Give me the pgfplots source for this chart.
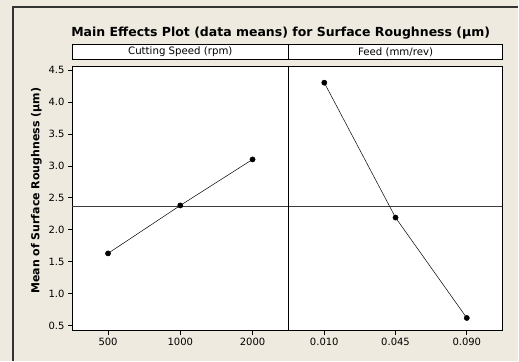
\documentclass[border=0pt]{standalone}
\usepackage{fontspec}
\setmainfont{DejaVu Sans}
\usepackage{pgfplots}
\pgfplotsset{compat=1.18}
\definecolor{bg}{RGB}{238,234,224}
\definecolor{meanc}{RGB}{60,60,60}
\pgfplotsset{
  mep/.style={
    scale only axis, anchor=south west, height=265pt,
    xmin=0.5, xmax=3.5, ymin=0.422, ymax=4.5625,
    xtick={1,2,3},
    tick align=outside, tick pos=left, major tick length=4pt,
    axis line style={line width=0.8pt},
    every tick/.style={black, line width=0.6pt},
    /pgf/number format/assume math mode=true,
    tick label style={font=\fontsize{10}{12}\selectfont},
    axis background/.style={fill=white},
    title style={at={(0.5,1)}, anchor=south, draw=black, fill=white, line width=0.8pt,
      minimum height=15pt, inner sep=0pt, font=\fontsize{10.2}{12}\selectfont},
  }
}
\begin{document}
\begin{tikzpicture}
\fill[bg] (0,0) rectangle (519pt,361pt);
\draw[line width=1.2pt, black!80] (13pt,0pt) -- (13pt,354pt) -- (519pt,354pt);
\node[font=\bfseries\fontsize{12.5}{15}\selectfont] at (281pt,328pt) {Main Effects Plot (data means) for Surface Roughness (µm)};
\node[rotate=90, font=\bfseries\fontsize{11}{13}\selectfont] at (36.5pt,170pt) {Mean of Surface Roughness (µm)};
\begin{axis}[mep, at={(72pt,30pt)}, width=217pt,
  xticklabels={500,1000,2000},
  ytick={0.5,1.0,1.5,2.0,2.5,3.0,3.5,4.0,4.5},
  yticklabel style={/pgf/number format/fixed, /pgf/number format/precision=1, /pgf/number format/fixed zerofill},
  title={Cutting Speed (rpm)}, title style={minimum width=217pt}]
\addplot[meanc, line width=0.6pt] coordinates {(0.5,2.37) (3.5,2.37)};
\addplot[black, line width=0.5pt, mark=*, mark size=2.6pt] coordinates {(1,1.63) (2,2.38) (3,3.10)};
\end{axis}
\begin{axis}[mep, at={(289pt,30pt)}, width=214pt,
  xticklabels={0.010,0.045,0.090},
  ytick=\empty,
  title={Feed (mm/rev)}, title style={minimum width=214pt}]
\addplot[meanc, line width=0.6pt] coordinates {(0.5,2.37) (3.5,2.37)};
\addplot[black, line width=0.5pt, mark=*, mark size=2.6pt] coordinates {(1,4.30) (2,2.19) (3,0.62)};
\end{axis}
\end{tikzpicture}
\end{document}
